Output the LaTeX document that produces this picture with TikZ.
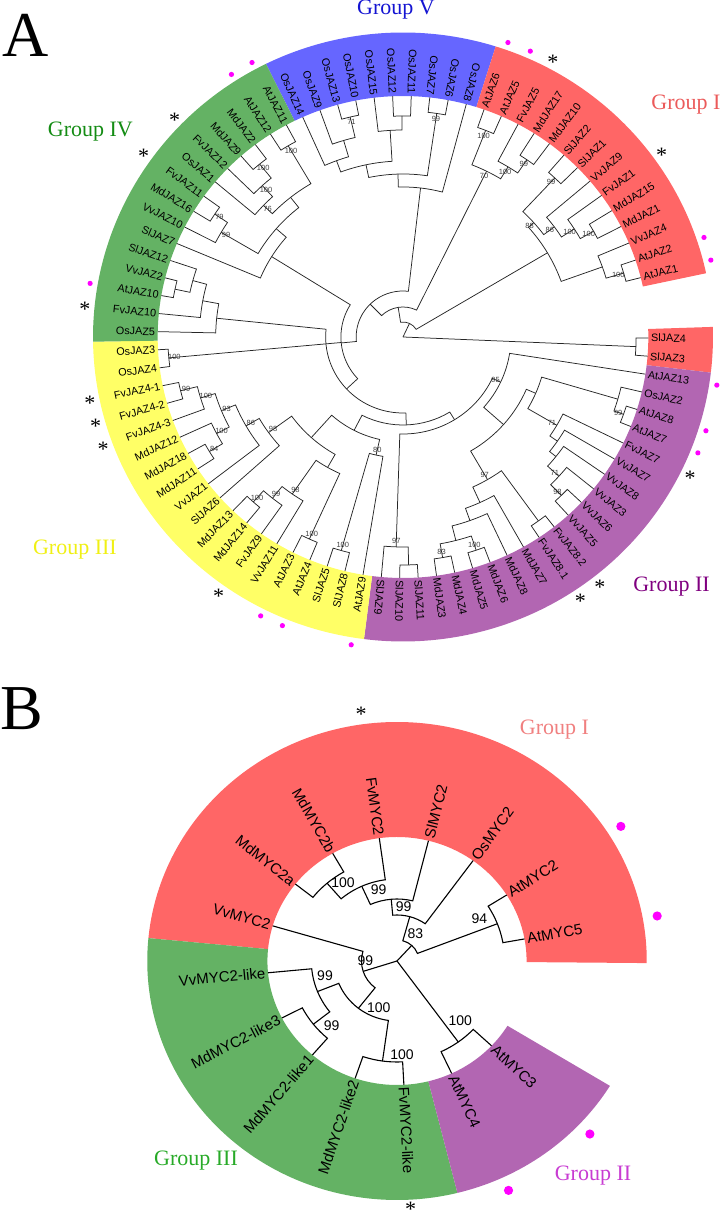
\documentclass[tikz,border=0pt]{standalone}
\usepackage{fontspec}
\setmainfont{Liberation Serif}
\setsansfont{Liberation Sans}
\definecolor{bandblue}{RGB}{102,102,255}
\definecolor{bandred}{RGB}{255,102,102}
\definecolor{bandgreen}{RGB}{100,178,100}
\definecolor{bandyellow}{RGB}{255,255,102}
\definecolor{bandpurple}{RGB}{178,102,178}
\definecolor{dotmag}{RGB}{255,0,255}
\definecolor{txtblue}{RGB}{20,20,210}
\definecolor{txtred}{RGB}{235,90,90}
\definecolor{txtgreen}{RGB}{20,140,20}
\definecolor{txtyellow}{RGB}{240,240,20}
\definecolor{txtpurple}{RGB}{128,0,128}
\definecolor{txtpink}{RGB}{240,128,128}
\definecolor{txtgreenB}{RGB}{40,170,40}
\definecolor{txtviolet}{RGB}{200,60,210}
\newcommand\TA[1]{\csname TAa#1\endcsname}
\newcommand\TR[1]{\csname TRr#1\endcsname}
\newcommand\setTA[3]{\expandafter\xdef\csname TAa#1\endcsname{#2}\expandafter\xdef\csname TRr#1\endcsname{#3}}
\newcommand\bandsec[5]{\fill[#5] (#1:#3) -- (#1:#4) arc[start angle=#1, end angle=#2, radius=#4] -- (#2:#3) arc[start angle=#2, end angle=#1, radius=#3] -- cycle;}
\newcommand\leafA[2]{%
  \pgfmathsetmacro\tmpang{#1<24 ? 116.3-4.342*(#1+0.5) : 361.9-4.31*(#1-23.5)}%
  \setTA{#2}{\tmpang}{241}%
  \pgfmathtruncatemacro\tmpflip{and(\tmpang>72.6,\tmpang<262.77)}%
  \ifnum\tmpflip=1\relax
    \node[leafA, anchor=east, rotate=\tmpang+180] (lA#1) at (\tmpang:243.5) {#2};%
  \else
    \node[leafA, anchor=west, rotate=\tmpang] (lA#1) at (\tmpang:243.5) {#2};%
  \fi}
\newcommand\leafB[3]{%
  \setTA{#3}{#2}{124}%
  \pgfmathtruncatemacro\tmpflip{and(#2>90,#2<270)}%
  \ifnum\tmpflip=1\relax
    \node[leafB, anchor=east, rotate=#2+180] (lB#1) at (#2:126.5) {#3};%
  \else
    \node[leafB, anchor=west, rotate=#2] (lB#1) at (#2:126.5) {#3};%
  \fi}
\newcommand\inode[5]{%
  \edef\xca{\TA{#3}}\edef\xcb{\TA{#4}}\edef\xra{\TR{#3}}\edef\xrb{\TR{#4}}%
  \pgfmathsetmacro\tmpang{(\xca+\xcb)/2}%
  \setTA{#1}{\tmpang}{#2}%
  \draw[treeline] (\xca:\xra) -- (\xca:#2) arc[start angle=\xca, end angle=\xcb, radius=#2] -- (\xcb:\xrb);%
  \if\relax\detokenize{#5}\relax\else
    \node[bsA] (bA#1) at (\tmpang:#2-5.5) {#5};%
  \fi}
\newcommand\inodeiii[6]{%
  \edef\xca{\TA{#3}}\edef\xcm{\TA{#4}}\edef\xcb{\TA{#5}}%
  \edef\xra{\TR{#3}}\edef\xrm{\TR{#4}}\edef\xrb{\TR{#5}}%
  \pgfmathsetmacro\tmpang{(\xca+\xcb)/2}%
  \setTA{#1}{\tmpang}{#2}%
  \draw[treeline] (\xca:\xra) -- (\xca:#2) arc[start angle=\xca, end angle=\xcb, radius=#2] -- (\xcb:\xrb);%
  \draw[treeline] (\xcm:#2) -- (\xcm:\xrm);%
  \if\relax\detokenize{#6}\relax\else
    \node[bsA] (bA#1) at (\tmpang:#2-5.5) {#6};%
  \fi}
\newcommand\dotAt[2]{\edef\xda{\TA{#1}}\fill[dotmag] (\xda:#2) circle[radius=\dotr];}
\newcommand\starAt[3]{\edef\xda{\TA{#1}}\node[staro] (st#3) at (\xda:#2) {\smash{*}};}
\begin{document}
\begin{tikzpicture}[x=1pt,y=1pt,
 leafA/.style={font=\sffamily\fontsize{10.8}{11}\selectfont, inner sep=0pt},
 leafB/.style={font=\sffamily\fontsize{15}{15}\selectfont, inner sep=0pt},
 bsA/.style={font=\sffamily\fontsize{7.5}{7.5}\selectfont, text=black!75, inner sep=0pt},
 bsB/.style={font=\sffamily\fontsize{14}{14}\selectfont, inner sep=0pt},
 grp/.style={font=\fontsize{22}{22}\selectfont, inner sep=0pt, anchor=base},
 letter/.style={font=\fontsize{64}{64}\selectfont, inner sep=0pt, anchor=base west},
 staro/.style={font=\fontsize{22}{22}\selectfont, inner sep=0pt, yshift=-10.3pt}]
\useasboundingbox (0,0) rectangle (723,1216);
% ================= Panel A =================
\begin{scope}[shift={(403,879)}, x=1.018pt, treeline/.style={line width=0.75pt, black!85}]
\bandsec{116.23}{72.6}{241}{304.5}{bandblue}
\bandsec{72.6}{12.09}{241}{304.5}{bandred}
\bandsec{361.9}{353.28}{241}{304.5}{bandred}
\bandsec{353.28}{262.77}{241}{304.5}{bandpurple}
\bandsec{262.77}{180.88}{241}{304.5}{bandyellow}
\bandsec{180.88}{116.23}{241}{304.5}{bandgreen}
\leafA{0}{OsJAZ14}\leafA{1}{OsJAZ9}\leafA{2}{OsJAZ13}\leafA{3}{OsJAZ10}
\leafA{4}{OsJAZ15}\leafA{5}{OsJAZ12}\leafA{6}{OsJAZ11}\leafA{7}{OsJAZ7}
\leafA{8}{OsJAZ6}\leafA{9}{OsJAZ8}\leafA{10}{AtJAZ6}\leafA{11}{AtJAZ5}
\leafA{12}{FvJAZ5}\leafA{13}{MdJAZ17}\leafA{14}{MdJAZ10}\leafA{15}{SlJAZ2}
\leafA{16}{SlJAZ1}\leafA{17}{VvJAZ9}\leafA{18}{FvJAZ1}\leafA{19}{MdJAZ15}
\leafA{20}{MdJAZ1}\leafA{21}{VvJAZ4}\leafA{22}{AtJAZ2}\leafA{23}{AtJAZ1}
\leafA{24}{SlJAZ4}\leafA{25}{SlJAZ3}\leafA{26}{AtJAZ13}\leafA{27}{OsJAZ2}
\leafA{28}{AtJAZ8}\leafA{29}{AtJAZ7}\leafA{30}{FvJAZ7}\leafA{31}{VvJAZ7}
\leafA{32}{VvJAZ8}\leafA{33}{VvJAZ3}\leafA{34}{VvJAZ6}\leafA{35}{VvJAZ5}
\leafA{36}{FvJAZ8.2}\leafA{37}{FvJAZ8.1}\leafA{38}{MdJAZ7}\leafA{39}{MdJAZ8}
\leafA{40}{MdJAZ6}\leafA{41}{MdJAZ5}\leafA{42}{MdJAZ4}\leafA{43}{MdJAZ3}
\leafA{44}{SlJAZ11}\leafA{45}{SlJAZ10}\leafA{46}{SlJAZ9}\leafA{47}{AtJAZ9}
\leafA{48}{SlJAZ8}\leafA{49}{SlJAZ5}\leafA{50}{AtJAZ4}\leafA{51}{AtJAZ3}
\leafA{52}{VvJAZ11}\leafA{53}{FvJAZ9}\leafA{54}{MdJAZ14}\leafA{55}{MdJAZ13}
\leafA{56}{SlJAZ6}\leafA{57}{VvJAZ1}\leafA{58}{MdJAZ11}\leafA{59}{MdJAZ18}
\leafA{60}{MdJAZ12}\leafA{61}{FvJAZ4-3}\leafA{62}{FvJAZ4-2}\leafA{63}{FvJAZ4-1}
\leafA{64}{OsJAZ4}\leafA{65}{OsJAZ3}\leafA{66}{OsJAZ5}\leafA{67}{FvJAZ10}
\leafA{68}{AtJAZ10}\leafA{69}{VvJAZ2}\leafA{70}{SlJAZ12}\leafA{71}{SlJAZ7}
\leafA{72}{VvJAZ10}\leafA{73}{MdJAZ16}\leafA{74}{FvJAZ11}\leafA{75}{OsJAZ1}
\leafA{76}{FvJAZ12}\leafA{77}{MdJAZ9}\leafA{78}{MdJAZ2}\leafA{79}{AtJAZ12}
\leafA{80}{AtJAZ11}
% Group V
\inode{v1}{226}{OsJAZ13}{OsJAZ10}{71}
\inode{v2}{205}{OsJAZ9}{v1}{}
\inode{v3}{188}{OsJAZ14}{v2}{}
\inode{v4}{221}{OsJAZ12}{OsJAZ11}{}
\inode{v5}{207}{OsJAZ15}{v4}{}
\inode{v6}{176}{v3}{v5}{}
\inode{v7}{226}{OsJAZ7}{OsJAZ6}{99}
\inode{v8}{163}{v6}{v7}{}
\inode{v9}{150}{v8}{OsJAZ8}{}
% Group I
\inode{i1}{222}{AtJAZ6}{AtJAZ5}{100}
\inode{i2}{215}{MdJAZ17}{MdJAZ10}{99}
\inode{i3}{199}{FvJAZ5}{i2}{100}
\inode{i4}{185}{i1}{i3}{70}
\inode{i5}{218}{SlJAZ2}{SlJAZ1}{99}
\inode{i6}{215}{MdJAZ15}{MdJAZ1}{100}
\inode{i7}{200}{FvJAZ1}{i6}{100}
\inode{i8}{185}{VvJAZ9}{i7}{86}
\inode{i9}{172}{i5}{i8}{88}
\inode{i10}{226}{AtJAZ2}{AtJAZ1}{100}
\inode{i11}{208}{VvJAZ4}{i10}{}
\inode{i12}{165}{i9}{i11}{}
\inode{s1}{229}{SlJAZ4}{SlJAZ3}{}
% Group II
\inode{t1}{224}{MdJAZ3}{MdJAZ4}{83}
\inode{t2}{225}{MdJAZ5}{MdJAZ6}{100}
\inode{t3}{210}{t1}{t2}{}
\inode{t4}{195}{t3}{MdJAZ8}{}
\inode{t5}{182}{t4}{MdJAZ7}{}
\inode{t6}{227}{FvJAZ8.1}{FvJAZ8.2}{}
\inode{t7}{165}{t5}{t6}{97}
\inode{t8}{228}{SlJAZ10}{SlJAZ11}{}
\inode{t9}{210}{SlJAZ9}{t8}{97}
\inode{t10}{222}{VvJAZ5}{VvJAZ6}{98}
\inode{t11}{207}{t10}{VvJAZ3}{71}
\inode{t12}{192}{t11}{VvJAZ8}{}
\inode{t13}{184}{t12}{VvJAZ7}{}
\inode{t14}{175}{t13}{FvJAZ7}{71}
\inode{t15}{230}{AtJAZ7}{AtJAZ8}{99}
\inode{t16}{220}{t15}{OsJAZ2}{}
\inode{t17}{142}{t14}{t16}{}
\inode{t18}{132}{t7}{t17}{}
\inode{t19}{106}{t18}{AtJAZ13}{95}
\inode{t20}{97}{t9}{t19}{}
% Group III
\inode{h1}{225}{FvJAZ4-1}{FvJAZ4-2}{99}
\inode{h2}{208}{h1}{FvJAZ4-3}{100}
\inode{h3}{222}{MdJAZ18}{MdJAZ11}{84}
\inode{h4}{207}{MdJAZ12}{h3}{100}
\inode{h5}{193}{h2}{h4}{93}
\inode{h6}{178}{h5}{VvJAZ1}{86}
\inode{h7}{163}{h6}{SlJAZ6}{98}
\inode{h8}{221}{MdJAZ13}{MdJAZ14}{100}
\inode{h9}{206}{h8}{FvJAZ9}{99}
\inode{h10}{191}{h9}{VvJAZ11}{98}
\inode{h11}{222}{AtJAZ3}{AtJAZ4}{100}
\inode{h12}{150}{h10}{h11}{}
\inode{h13}{135}{h7}{h12}{}
\inode{h14}{222}{SlJAZ5}{SlJAZ8}{100}
\inode{h15}{121}{h14}{AtJAZ9}{80}
\inode{h16}{105}{h13}{h15}{}
\inode{h17}{231}{OsJAZ3}{OsJAZ4}{100}
% Group IV
\inode{f1}{222}{AtJAZ11}{AtJAZ12}{100}
\inode{f2}{223}{MdJAZ2}{MdJAZ9}{100}
\inode{f3}{205}{f2}{FvJAZ12}{100}
\inode{f4}{190}{f3}{OsJAZ1}{76}
\inode{f5}{178}{f4}{f1}{}
\inode{f6}{222}{FvJAZ11}{MdJAZ16}{79}
\inode{f7}{207}{f6}{VvJAZ10}{99}
\inode{f8}{165}{f5}{f7}{}
\inode{f9}{152}{f8}{SlJAZ7}{}
\inode{f10}{229}{VvJAZ2}{AtJAZ10}{}
\inode{f11}{214}{SlJAZ12}{f10}{}
\inode{f12}{200}{f11}{FvJAZ10}{}
\inode{f13}{184}{f12}{OsJAZ5}{}
% deep nodes
\inode{m90}{88}{h16}{t20}{}
\inode{l76}{76}{f13}{m90}{}
\inodeiii{n1}{61}{f9}{h17}{l76}{}
\inode{n2}{46}{n1}{v9}{}
\inode{n3}{30}{n2}{i4}{}
\inode{n4}{15}{n3}{i12}{}
\coordinate (rootA) at (0,0);
\draw[treeline] (rootA) -- (\TA{n4}:\TR{n4});
\draw[treeline] (rootA) -- (\TA{s1}:\TR{s1});
% markers
\def\dotr{2.6pt}
\dotAt{AtJAZ11}{312}\dotAt{AtJAZ12}{312}\dotAt{AtJAZ6}{312}\dotAt{AtJAZ5}{312}
\dotAt{AtJAZ2}{312}\dotAt{AtJAZ1}{312}\dotAt{AtJAZ13}{312}\dotAt{AtJAZ8}{312}
\dotAt{AtJAZ7}{312}\dotAt{AtJAZ9}{312}\dotAt{AtJAZ4}{312}\dotAt{AtJAZ3}{312}
\dotAt{AtJAZ10}{312}
\starAt{FvJAZ12}{314}{a1}\starAt{FvJAZ11}{314}{a2}\starAt{FvJAZ5}{314}{a3}
\starAt{FvJAZ1}{314}{a4}\starAt{FvJAZ10}{314}{a5}\starAt{FvJAZ4-1}{314}{a6}
\starAt{FvJAZ4-2}{314}{a7}\starAt{FvJAZ4-3}{314}{a8}\starAt{FvJAZ7}{314}{a9}
\starAt{FvJAZ8.2}{314}{a10}\starAt{FvJAZ8.1}{314}{a11}\starAt{FvJAZ9}{314}{a12}
\end{scope}
\node[letter] (letA) at (2,1159) {A};
\node[grp, text=txtblue] (gAV) at (396,1201) {Group V};
\node[grp, text=txtred] (gAI) at (686,1106) {Group I};
\node[grp, text=txtgreen, anchor=base east] (gAIV) at (133,1079.3) {Group IV};
\node[grp, text=txtyellow, anchor=base east] (gAIII) at (117,661) {Group III};
\node[grp, text=txtpurple] (gAII) at (671.5,624.3) {Group II};
% ================= Panel B =================
\begin{scope}[shift={(397,255)}, x=1.045pt, treeline/.style={line width=1.1pt, black}]
\bandsec{-0.5}{174.5}{124}{239}{bandred}
\bandsec{174.5}{284}{124}{239}{bandgreen}
\bandsec{284}{328.5}{124}{239}{bandpurple}
\leafB{1}{163.55}{VvMYC2}
\leafB{2}{141.65}{MdMYC2a}
\leafB{3}{119.75}{MdMYC2b}
\leafB{4}{97.85}{FvMYC2}
\leafB{5}{75.95}{SlMYC2}
\leafB{6}{54.05}{OsMYC2}
\leafB{7}{32.15}{AtMYC2}
\leafB{8}{10.25}{AtMYC5}
\leafB{9}{185.45}{VvMYC2-like}
\leafB{10}{207.35}{MdMYC2-like3}
\leafB{11}{229.25}{MdMYC2-like1}
\leafB{12}{251.15}{MdMYC2-like2}
\leafB{13}{273.05}{FvMYC2-like}
\leafB{14}{294.95}{AtMYC4}
\leafB{15}{316.85}{AtMYC3}
\inode{b1}{102.6}{MdMYC2a}{MdMYC2b}{}
\inode{b2}{82}{b1}{FvMYC2}{}
\inode{b3}{62}{b2}{SlMYC2}{}
\inode{b4}{46}{b3}{OsMYC2}{}
\inode{b5}{103}{AtMYC2}{AtMYC5}{}
\inode{b6}{21}{b4}{b5}{}
\inode{g1}{102}{MdMYC2-like3}{MdMYC2-like1}{}
\inode{g2}{82}{VvMYC2-like}{g1}{}
\inode{g3}{101}{MdMYC2-like2}{FvMYC2-like}{}
\inode{g4}{60}{g2}{g3}{}
\inode{g5}{34}{VvMYC2}{g4}{}
\inode{p1}{100}{AtMYC4}{AtMYC3}{}
\coordinate (rootB) at (0,0);
\draw[treeline] (rootB) -- (\TA{b6}:\TR{b6});
\draw[treeline] (rootB) -- (\TA{g5}:\TR{g5});
\draw[treeline] (rootB) -- (\TA{p1}:\TR{p1});
\def\dotr{4.6pt}
\dotAt{AtMYC2}{253}\dotAt{AtMYC5}{253}\dotAt{AtMYC3}{253}\dotAt{AtMYC4}{253}
\starAt{FvMYC2}{252}{b1}\starAt{FvMYC2-like}{246}{b2}
\end{scope}
\node[bsB] (bsb1) at (343,333) {100};
\node[bsB] (bsb2) at (378.7,326) {99};
\node[bsB] (bsb3) at (403.7,309.3) {99};
\node[bsB] (bsb4) at (415.3,282.7) {83};
\node[bsB] (bsb5) at (479.3,297.7) {94};
\node[bsB] (bsg2) at (325,240) {99};
\node[bsB] (bsg1) at (331.7,190) {99};
\node[bsB] (bsg4) at (378.7,208.3) {100};
\node[bsB] (bsg3) at (402,161.7) {100};
\node[bsB] (bsp1) at (460.3,195) {100};
\node[bsB] (bsg5) at (365.3,255) {99};
\node[letter] (letB) at (0,486) {B};
\node[grp, text=txtpink] (gBI) at (554.5,481) {Group I};
\node[grp, text=txtgreenB] (gBIII) at (196,50) {Group III};
\node[grp, text=txtviolet] (gBII) at (593,35) {Group II};
\end{tikzpicture}
\end{document}
